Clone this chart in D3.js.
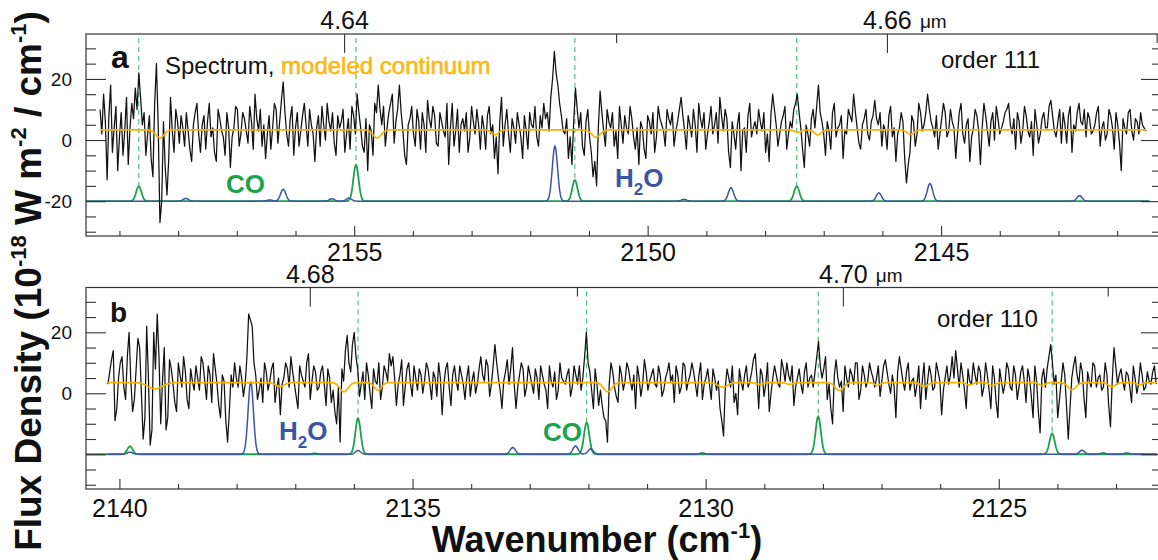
<!DOCTYPE html>
<html>
<head>
<meta charset="utf-8">
<script src="https://cdn.jsdelivr.net/npm/d3@7"></script>
<style>
  body { margin: 0; background: #fff; }
  svg { display: block; }
  text { font-family: "Liberation Sans", Arial, Helvetica, sans-serif; }
</style>
</head>
<body>
<svg id="chart" width="1158" height="560"></svg>
<script>
// ---------------- data ----------------
// Observed spectra: "flux" holds the samples on the 0.06 cm^-1 grid from the first
// wavenumber, "fluxMid" the samples lying half a step after each of them.
const sampleStep = 0.06;
const startWnA = 2159.33;   // order 111
const startWnB = 2140.195;  // order 110

const fluxA = [
  10,15,-13,18,4,-10,9,3,-8,12,
  17,22,5,-5,8,-12,25,-27,6,-18,
  14,-4,6,8,-2,3,-7,9,2,5,
  -3,12,4,-7,7,1,9,-9,4,10,
  2,7,-1,6,15,3,-2,-6,8,4,
  10,6,19,2,7,-5,9,3,12,-2,
  5,-7,8,11,0,6,9,-5,4,10,
  2,-3,8,15,4,-4,-10,3,12,18,
  5,-2,9,15,6,18,3,-8,7,2,
  10,-3,5,13,4,8,-2,6,1,-8,
  12,3,-4,7,9,1,6,10,-3,4,
  8,2,-6,-11,14,5,2,7,-1,5,
  -6,3,9,4,1,8,12,9,14,29,
  18,8,2,-6,-8,17,4,-2,6,1,
  -12,-15,16,3,10,4,-2,-6,5,8,
  2,7,-3,-8,4,-6,6,9,1,7,
  3,10,5,-2,6,14,3,8,1,5,
  12,4,-3,6,2,9,14,3,7,-9,
  2,5,-10,4,8,1,6,10,3,-4,
  -7,15,5,2,8,-3,6,10,15,4,
  -9,2,7,4,18,6,-5,3,9,1,
  5,-6,2,8,15,4,-3,7,2,6,
  13,5,-2,3,8,1,-7,4,6,-14,
  -4,6,2,9,5,15,6,1,-3,7,
  9,3,6,-6,9,2,5,-7,4,8,
  -8,12,3,6,0,7,4,9,12,2,
  -3,6,3,8,1,-5,5,2,9,4,
  13,3,6,-1,5,8,-4,3,12,5,
  1,7,3,9,-2,6,2,8,-3,5,
  -10,4,9,3,7,2,5,3
];
const fluxMidA = [
  2,6,8,-4,11,1,-5,14,4,7,
  10,14,9,2,-6,12,5,-20,-9,-6,
  3,10,-1,4,9,-3,5,12,-4,8,
  6,1,-4,10,3,-5,4,1,11,-2,
  9,3,11,-3,7,10,5,2,-3,12,
  -1,13,9,-2,11,4,-2,8,5,10,
  2,4,-2,5,12,3,-1,8,6,-4,
  7,11,2,9,-2,7,5,-5,9,10,
  11,4,12,-1,10,9,-5,5,11,-2,
  6,9,-4,7,11,-1,9,3,12,4,
  -2,10,5,3,-4,11,2,5,8,-3,
  11,5,1,6,-2,10,-4,4,9,1,
  8,-3,5,11,-2,4,7,3,20,22,
  12,3,7,1,6,10,9,-5,10,-4,
  -7,4,9,-2,6,9,3,11,-1,4,
  11,1,4,6,-3,8,2,-4,11,5,
  -2,7,9,3,10,8,-3,5,10,-4,
  7,9,2,11,5,-1,8,10,-4,6,
  -3,9,3,-4,12,4,2,6,9,2,
  8,10,-2,6,11,2,4,12,9,-3,
  5,-2,10,11,9,2,6,-3,12,4,
  8,3,10,6,9,-1,5,10,0,8,
  7,9,5,-3,11,4,2,9,-6,-8,
  8,-2,12,3,9,10,4,8,2,12,
  1,10,4,2,12,-1,7,1,10,3,
  4,8,-2,9,11,2,6,10,5,7,
  9,-1,11,3,6,10,-1,7,4,11,
  8,1,10,9,-1,11,5,9,6,10,
  9,2,5,11,4,0,10,4,9,-1,
  7,2,10,0,6,9,4
];

const fluxB = [
  3,11,-9,5,12,-2,20,-6,8,15,
  -15,22,-17,20,26,-10,15,-8,8,-3,
  10,2,7,-5,4,9,1,10,-2,6,
  13,3,-8,4,-16,6,10,2,5,3,
  26,22,6,1,-3,7,4,10,2,-7,
  5,8,12,3,-5,6,2,13,4,7,
  2,9,-4,5,1,-10,-16,4,19,7,
  20,8,3,-2,6,-5,4,10,2,7,
  13,12,-4,6,-4,8,3,9,1,6,
  4,8,-2,5,10,-7,8,2,6,4,
  9,3,5,-1,7,3,12,4,9,3,
  16,5,-5,7,3,15,-5,6,8,2,
  6,0,5,9,3,-5,4,7,1,5,
  3,8,2,6,9,5,20,7,-5,3,
  1,-8,-16,10,2,-3,6,4,8,1,
  -5,5,3,7,4,8,2,6,1,7,
  4,-3,6,2,9,4,10,3,6,-2,
  5,3,8,1,-5,-14,8,2,-3,-7,
  4,6,2,7,13,-5,6,3,-6,5,
  6,2,8,10,4,-4,5,3,7,2,
  6,7,17,5,12,3,-10,11,2,-6,
  5,8,3,10,1,6,4,7,2,9,
  4,11,3,6,-8,12,4,7,1,5,
  3,-5,10,4,6,2,7,-7,5,3,
  12,14,2,6,-5,4,10,3,7,2,
  6,-5,5,-8,4,3,8,1,6,2,
  9,-3,5,-8,4,-13,8,8,16,3,
  -8,4,6,-15,5,12,3,7,-8,4,
  10,2,6,2,6,-11,15,3,8,1,
  6,-3,5,3,6,2,4,7,3
];
const fluxMidB = [
  7,14,-5,10,2,12,4,-2,18,0,
  -8,5,-12,8,12,4,-12,11,3,-6,
  6,12,-2,8,1,5,12,4,9,-3,
  8,-4,6,-9,-6,2,5,9,-1,12,
  24,10,-2,5,10,1,8,-3,5,3,
  10,2,7,-1,9,4,10,-2,9,1,
  7,3,8,-3,-6,2,8,14,10,16,
  12,-1,7,10,0,8,3,-2,9,4,
  9,5,3,11,2,10,-1,5,8,0,
  10,3,7,-1,5,3,10,-4,9,1,
  6,-2,9,4,0,8,6,11,-1,9,
  10,1,4,11,8,3,2,10,-1,9,
  3,8,-2,6,1,9,2,-2,10,4,
  6,-1,9,3,1,12,10,1,8,-4,
  -4,-9,3,7,-1,9,1,10,4,6,
  9,-1,11,1,6,3,9,-1,5,10,
  6,9,0,10,1,6,7,-1,10,3,
  8,-2,5,4,-9,2,5,9,0,8,
  1,9,4,11,5,8,-1,10,0,9,
  3,11,4,6,9,2,8,0,10,5,
  2,12,9,8,-2,-5,6,5,4,9,
  2,6,10,-2,9,2,10,5,5,-1,
  9,7,0,2,7,8,1,10,4,-1,
  9,4,-2,9,1,10,4,1,9,6,
  5,8,10,1,8,3,6,9,-1,10,
  1,9,-3,8,0,10,2,9,-2,7,
  4,8,-1,9,-6,5,2,12,10,6,
  -2,10,-4,-5,9,6,10,-2,7,2,
  9,5,1,10,-4,4,9,6,4,7,
  2,9,0,10,1,7,3,9
];

// Modeled continuum: flat level with telluric absorption dips [wavenumber, depth, width]
const continuumLevelA = 3.3;
const continuumDipsA = [
  [2158.31, 2.6, 0.07], [2154.61, 2.6, 0.07], [2152.60, 1.5, 0.06],
  [2150.88, 2.4, 0.07], [2147.44, 0.8, 0.05], [2147.10, 1.6, 0.06],
  [2145.52, 1.4, 0.06]
];
const continuumLevelB = 3.5;
const continuumDipsB = [
  [2139.39, 2.0, 0.12], [2137.26, 1.3, 0.07], [2136.17, 3.0, 0.07],
  [2135.59, 2.5, 0.06], [2131.67, 3.0, 0.07], [2129.71, 1.5, 0.08],
  [2129.08, 0.6, 0.05], [2128.57, 0.6, 0.05], [2127.72, 2.6, 0.07],
  [2127.07, 0.9, 0.05], [2126.27, 1.3, 0.06], [2125.50, 0.8, 0.05],
  [2125.11, 1.0, 0.05], [2124.26, 1.0, 0.05], [2123.75, 2.3, 0.07],
  [2123.07, 1.3, 0.06], [2122.60, 0.7, 0.05]
];

// Model emission lines [wavenumber, peak height above the -20 offset, marked]
const modelOffset = -20;
const lineWidth = 0.045;
const coLinesA = [
  [2158.67, 4.9, true], [2154.97, 11.8, true], [2151.24, 6.9, true], [2147.46, 4.9, true]
];
const h2oLinesA = [
  [2157.87, 0.9], [2156.44, 0.4], [2156.21, 3.9], [2155.38, 0.8], [2155.09, 1.0],
  [2151.58, 18.0], [2149.38, 0.6], [2148.58, 4.4], [2146.06, 2.7], [2145.19, 5.8],
  [2142.64, 1.8]
];
const coLinesB = [
  [2139.82, 2.6, false], [2135.93, 11.8, true], [2132.03, 10.4, true],
  [2128.08, 12.4, true], [2124.09, 6.8, true]
];
const h2oLinesB = [
  [2139.82, 0.7], [2137.76, 23.8], [2136.67, 0.3], [2135.93, 1.2], [2133.29, 2.2],
  [2132.22, 2.7], [2131.96, 1.8], [2130.06, 0.4], [2123.58, 1.3], [2123.22, 0.4],
  [2122.82, 0.4]
];

// Axis ticks
const wnMajorA = [2155, 2150, 2145];
const wnMinorA = [2159, 2158, 2157, 2156, 2154, 2153, 2152, 2151, 2149, 2148, 2147, 2146, 2144, 2143, 2142];
const wnMajorB = [2140, 2135, 2130, 2125];
const wnMinorB = [2139, 2138, 2137, 2136, 2134, 2133, 2132, 2131, 2129, 2128, 2127, 2126, 2124, 2123];
const umMajorA = [4.64, 4.66];
const umMinorA = [4.65, 4.67];
const umMajorB = [4.68, 4.70];
const umMinorB = [4.69, 4.71];
const umLabelsA = ["4.64", "4.66"];
const umLabelsB = ["4.68", "4.70"];
const yMajor = [20, 0, -20];
const yMinor = [30, 25, 15, 10, 5, -5, -10, -15, -25, -30];
const yLabelsA = ["20", "0", "-20"];
const yLabelsB = ["20", "0", ""];

// ---------------- drawing ----------------
const COL = {
  co: "#1ba34c", coDash: "#2fb562", h2o: "#3a55a6", cont: "#f5b300",
  contText: "#fcb814", ink: "#111", axis: "#333"
};
const svg = d3.select("#chart");
const X0 = 86, X1 = 1160;

const panels = [
  {
    id: "a", top: 34, height: 202, wn: [2159.57, 2141.27],
    flux: fluxA, fluxMid: fluxMidA, start: startWnA,
    contLevel: continuumLevelA, contDips: continuumDipsA, contEnd: 2141.51,
    co: coLinesA, h2o: h2oLinesA, greenStart: 2159.57, blueStart: 2159.57, modelEnd: 2141.45,
    wnMajor: wnMajorA, wnMinor: wnMinorA, labelPad: 7,
    umMajor: umMajorA, umMinor: umMinorA, umLabels: umLabelsA,
    yLabels: yLabelsA
  },
  {
    id: "b", top: 287.5, height: 201.5, wn: [2140.57, 2122.25],
    flux: fluxB, fluxMid: fluxMidB, start: startWnB,
    contLevel: continuumLevelB, contDips: continuumDipsB, contEnd: 2122.3,
    co: coLinesB, h2o: h2oLinesB, greenStart: 2140.57, blueStart: 2140.195, modelEnd: 2122.3,
    wnMajor: wnMajorB, wnMinor: wnMinorB, labelPad: 10,
    umMajor: umMajorB, umMinor: umMinorB, umLabels: umLabelsB,
    yLabels: yLabelsB
  }
];

function profile(lines, base, sign, wn) {
  let v = base;
  for (const l of lines) {
    const s = typeof l[2] === "number" ? l[2] : lineWidth;
    const d = (wn - l[0]) / s;
    v += sign * l[1] * Math.exp(-0.5 * d * d);
  }
  return v;
}

function styleAxis(g, size) {
  g.select(".domain").remove();
  g.selectAll(".tick line").attr("stroke", COL.axis).attr("stroke-width", 1.1);
  g.selectAll(".tick text").attr("fill", COL.ink).attr("font-size", size)
    .attr("font-family", '"Liberation Sans", Arial, sans-serif');
}

panels.forEach(p => {
  const x = d3.scaleLinear().domain(p.wn).range([X0, X1]);
  const y = d3.scaleLinear().domain([34.7, -31.4]).range([p.top, p.top + p.height]);
  const g = svg.append("g");

  const clipId = "clip-" + p.id;
  g.append("clipPath").attr("id", clipId)
    .append("rect").attr("x", X0).attr("y", p.top).attr("width", X1 - X0).attr("height", p.height);
  const plot = g.append("g").attr("clip-path", `url(#${clipId})`);

  // model spectra (CO green, H2O blue) on the -20 offset
  const grid = (a, b) => d3.range(Math.round((a - b) / 0.01) + 1).map(i => a - i * 0.01);
  const lineGen = d3.line().x(d => x(d[0])).y(d => y(d[1]));
  plot.append("path")
    .datum(grid(p.greenStart, p.modelEnd).map(w => [w, profile(p.co, modelOffset, 1, w)]))
    .attr("d", lineGen).attr("fill", "none").attr("stroke", COL.co).attr("stroke-width", 1.8);
  plot.append("path")
    .datum(grid(p.blueStart, p.modelEnd).map(w => [w, profile(p.h2o, modelOffset, 1, w)]))
    .attr("d", lineGen).attr("fill", "none").attr("stroke", COL.h2o).attr("stroke-width", 1.5);

  // dashed markers above the CO lines
  plot.selectAll("line.marker").data(p.co.filter(d => d[2])).join("line")
    .attr("x1", d => x(d[0])).attr("x2", d => x(d[0]))
    .attr("y1", p.top + 4).attr("y2", d => y(modelOffset + d[1]))
    .attr("stroke", COL.coDash).attr("stroke-width", 1).attr("stroke-dasharray", "5,4");

  // observed spectrum: main grid samples interleaved with the half-step samples
  const spec = [];
  p.flux.forEach((v, i) => {
    const w = p.start - i * sampleStep;
    spec.push([w, v]);
    if (i < p.fluxMid.length) spec.push([w - sampleStep / 2, p.fluxMid[i]]);
  });
  plot.append("path").datum(spec)
    .attr("d", lineGen).attr("fill", "none").attr("stroke", COL.ink)
    .attr("stroke-width", 1.25).attr("stroke-linejoin", "round");

  // modeled continuum
  plot.append("path")
    .datum(grid(p.start, p.contEnd).map(w => [w, profile(p.contDips, p.contLevel, -1, w)]))
    .attr("d", lineGen).attr("fill", "none").attr("stroke", COL.cont).attr("stroke-width", 1.7);

  // frame
  g.append("rect").attr("x", X0).attr("y", p.top).attr("width", X1 - X0).attr("height", p.height)
    .attr("fill", "none").attr("stroke", COL.axis).attr("stroke-width", 1.2);

  // wavenumber axis (bottom)
  g.append("g").attr("transform", `translate(0,${p.top + p.height})`)
    .call(d3.axisBottom(x).tickValues(p.wnMajor).tickSize(-10).tickSizeOuter(0)
      .tickPadding(p.labelPad).tickFormat(d3.format("d")))
    .call(s => styleAxis(s, 25));
  g.append("g").attr("transform", `translate(0,${p.top + p.height})`)
    .call(d3.axisBottom(x).tickValues(p.wnMinor).tickSize(-5).tickSizeOuter(0).tickFormat(""))
    .call(s => styleAxis(s, 25));

  // wavelength axis (top)
  g.append("g").attr("transform", `translate(0,${p.top})`)
    .call(d3.axisTop(x).tickValues(p.umMajor.map(l => 1e4 / l)).tickSize(-19).tickSizeOuter(0)
      .tickPadding(5).tickFormat((d, i) => p.umLabels[i]))
    .call(s => styleAxis(s, 25));
  g.append("g").attr("transform", `translate(0,${p.top})`)
    .call(d3.axisTop(x).tickValues(p.umMinor.map(l => 1e4 / l)).tickSize(-9).tickSizeOuter(0).tickFormat(""))
    .call(s => styleAxis(s, 25));
  const lastUm = p.umMajor[p.umMajor.length - 1];
  g.append("text").attr("x", x(1e4 / lastUm) + 33).attr("y", p.top - 6)
    .attr("font-size", 19).attr("fill", COL.ink).text("μm");

  // flux axes (left labelled, right ticks only)
  g.append("g").attr("transform", `translate(${X0},0)`)
    .call(d3.axisLeft(y).tickValues(yMajor).tickSize(-20).tickSizeOuter(0)
      .tickPadding(14).tickFormat((d, i) => p.yLabels[i]))
    .call(s => styleAxis(s, 19));
  g.append("g").attr("transform", `translate(${X0},0)`)
    .call(d3.axisLeft(y).tickValues(yMinor).tickSize(-10).tickSizeOuter(0).tickFormat(""))
    .call(s => styleAxis(s, 19));
  g.append("g").attr("transform", `translate(${X1},0)`)
    .call(d3.axisRight(y).tickValues(yMajor).tickSize(-19).tickSizeOuter(0).tickFormat(""))
    .call(s => styleAxis(s, 19));
  g.append("g").attr("transform", `translate(${X1},0)`)
    .call(d3.axisRight(y).tickValues(yMinor).tickSize(-8).tickSizeOuter(0).tickFormat(""))
    .call(s => styleAxis(s, 19));
});

// ---------------- annotations ----------------
const ann = svg.append("g").attr("fill", COL.ink);
ann.append("text").attr("x", 111).attr("y", 68).attr("font-size", 32).attr("font-weight", "bold").text("a");
ann.append("text").attr("x", 110).attr("y", 322).attr("font-size", 28).attr("font-weight", "bold").text("b");

const legend = ann.append("text").attr("x", 165).attr("y", 74).attr("font-size", 24);
legend.append("tspan").attr("fill", COL.ink).text("Spectrum, ");
legend.append("tspan").attr("fill", COL.contText).attr("stroke", COL.contText)
  .attr("stroke-width", 0.6).text("modeled continuum");

ann.append("text").attr("x", 941).attr("y", 68).attr("font-size", 24).text("order 111");
ann.append("text").attr("x", 937).attr("y", 327).attr("font-size", 24).text("order 110");

function coLabel(xp, yp) {
  ann.append("text").attr("x", xp).attr("y", yp).attr("font-size", 26).attr("font-weight", "bold")
    .attr("fill", COL.co).text("CO");
}
function h2oLabel(xp, yp) {
  const t = ann.append("text").attr("x", xp).attr("y", yp).attr("font-size", 26)
    .attr("font-weight", "bold").attr("fill", COL.h2o);
  t.append("tspan").text("H");
  t.append("tspan").attr("font-size", 17).attr("dy", 8).text("2");
  t.append("tspan").attr("dy", -8).text("O");
}
coLabel(226, 193);
h2oLabel(615, 187);
coLabel(543, 441);
h2oLabel(279, 440);

// axis titles
const xt = ann.append("text").attr("x", 597).attr("y", 552).attr("text-anchor", "middle")
  .attr("font-size", 36).attr("font-weight", "bold");
xt.append("tspan").text("Wavenumber (cm");
xt.append("tspan").attr("font-size", 22).attr("dy", -14).text("-1");
xt.append("tspan").attr("dy", 14).text(")");

const yt = ann.append("text").attr("transform", "translate(41,281) rotate(-90)")
  .attr("text-anchor", "middle").attr("font-size", 37).attr("font-weight", "bold");
yt.append("tspan").text("Flux Density (10");
yt.append("tspan").attr("font-size", 22).attr("dy", -15).text("-18");
yt.append("tspan").attr("dy", 15).text(" W m");
yt.append("tspan").attr("font-size", 22).attr("dy", -15).text("-2");
yt.append("tspan").attr("dy", 15).text(" / cm");
yt.append("tspan").attr("font-size", 22).attr("dy", -15).text("-1");
yt.append("tspan").attr("dy", 15).text(")");
</script>
</body>
</html>
